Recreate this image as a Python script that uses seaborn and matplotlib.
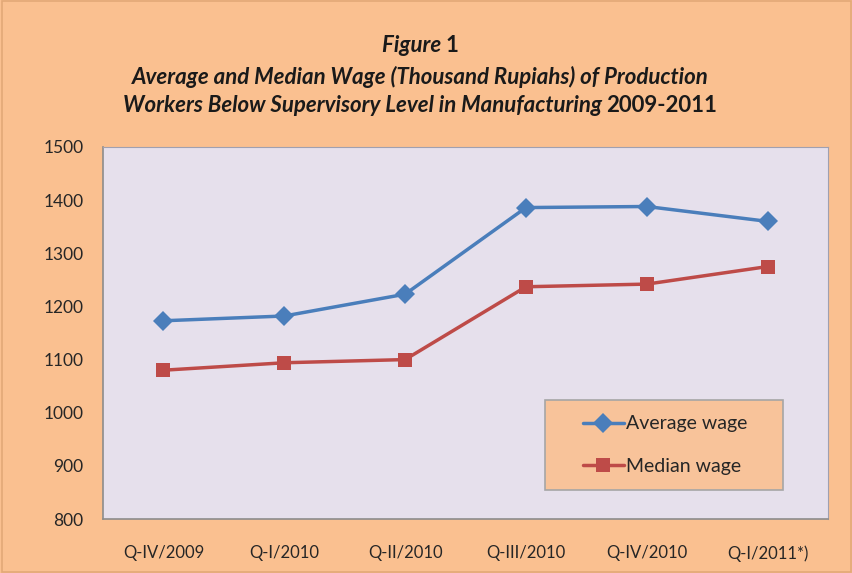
import matplotlib.pyplot as plt
import pandas as pd
import seaborn as sns
from matplotlib.ticker import FixedLocator

# ----------------------------------------------------------------------------
# Data
# ----------------------------------------------------------------------------
QUARTERS = ["Q-IV/2009", "Q-I/2010", "Q-II/2010", "Q-III/2010", "Q-IV/2010", "Q-I/2011*)"]
AVERAGE_WAGE = [1173, 1182, 1223, 1386, 1388, 1360]
MEDIAN_WAGE = [1080, 1094, 1100, 1237, 1242, 1275]
Y_TICKS = [800, 900, 1000, 1100, 1200, 1300, 1400, 1500]

BG_ORANGE = "#FAC090"
PLOT_BG = "#E6E0EC"
BLUE = "#4A7EBB"
RED = "#BE4B48"
GRID_GRAY = "#8C8C8C"
FONT = ["Lato", "DejaVu Sans"]

sns.set_style("white")
plt.rcParams["font.family"] = FONT

df = pd.DataFrame({
    "quarter": QUARTERS * 2,
    "pos": list(range(len(QUARTERS))) * 2,
    "wage": AVERAGE_WAGE + MEDIAN_WAGE,
    "series": ["Average wage"] * len(QUARTERS) + ["Median wage"] * len(QUARTERS),
})

fig = plt.figure(figsize=(8.53, 5.73), dpi=100, facecolor=BG_ORANGE)
fig.patches.append(plt.Rectangle((0.002, 0.002), 0.996, 0.996, transform=fig.transFigure,
                                 fill=False, edgecolor="#E3A877", linewidth=1.2))
ax = fig.add_axes([0.1208, 0.0942, 0.8499, 0.6493])
ax.set_facecolor(PLOT_BG)

sns.lineplot(data=df, x="pos", y="wage", hue="series", style="series",
             palette={"Average wage": BLUE, "Median wage": RED},
             markers={"Average wage": "D", "Median wage": "s"},
             dashes=False, linewidth=2.5, markersize=10, markeredgewidth=0,
             ax=ax)

ax.set_xlim(-0.5, len(QUARTERS) - 0.5)
ax.set_ylim(800, 1500)
ax.set_yticks(Y_TICKS)
ax.set_yticklabels([str(v) for v in Y_TICKS], fontsize=12.5, color="#262626")
ax.set_xticks(range(len(QUARTERS)))
ax.set_xticklabels(QUARTERS, fontsize=12, color="#262626")
ax.xaxis.set_minor_locator(FixedLocator([i - 0.5 for i in range(len(QUARTERS) + 1)]))
ax.tick_params(axis="x", which="major", length=0, pad=19)
ax.tick_params(axis="x", which="minor", length=5, color=GRID_GRAY, width=1, direction="out")
ax.tick_params(axis="y", length=5, color=GRID_GRAY, width=1, direction="out", pad=9)
ax.set_xlabel("")
ax.set_ylabel("")
for side in ["top", "right"]:
    ax.spines[side].set_color("#A0A0B0")
    ax.spines[side].set_linewidth(0.8)
for side in ["left", "bottom"]:
    ax.spines[side].set_color(GRID_GRAY)
    ax.spines[side].set_linewidth(1.2)

# legend box drawn as its own patch, entries placed inside it
ax.add_patch(plt.Rectangle((0.61, 0.078), 0.328, 0.242, transform=ax.transAxes,
                           facecolor="#F8C39A", edgecolor="#A6A6A6", linewidth=1.2,
                           zorder=4))
leg = ax.legend(loc="center left", bbox_to_anchor=(0.662, 0.199),
                frameon=False, fontsize=14,
                handlelength=2.1, handletextpad=0.1, labelspacing=1.3,
                borderaxespad=0, borderpad=0)
leg.set_zorder(5)
for t in leg.get_texts():
    t.set_color("#262626")

# ----------------------------------------------------------------------------
# Title with mixed italic / upright parts
# ----------------------------------------------------------------------------
fig.canvas.draw()
renderer = fig.canvas.get_renderer()


def title_line(parts, y):
    """Draw a centred line made of (text, style) pieces."""
    texts = []
    for txt, style in parts:
        texts.append(fig.text(0, y, txt, fontsize=16, fontweight="bold",
                              fontstyle=style, color="#1a1a1a", va="center"))
    widths = []
    for t in texts:
        bb = t.get_window_extent(renderer)
        widths.append(bb.width / fig.bbox.width)
    total = sum(widths)
    x = 0.4925 - total / 2
    for t, w in zip(texts, widths):
        t.set_x(x)
        x += w


title_line([("Figure ", "italic"), ("1", "normal")], 1 - 46 / 573)
title_line([("Average and Median Wage (Thousand Rupiahs) of Production", "italic")], 1 - 77 / 573)
title_line([("Workers Below Supervisory Level in Manufacturing ", "italic"),
            ("2009-2011", "normal")], 1 - 105 / 573)

fig.savefig("out.png", dpi=100, facecolor=BG_ORANGE)
